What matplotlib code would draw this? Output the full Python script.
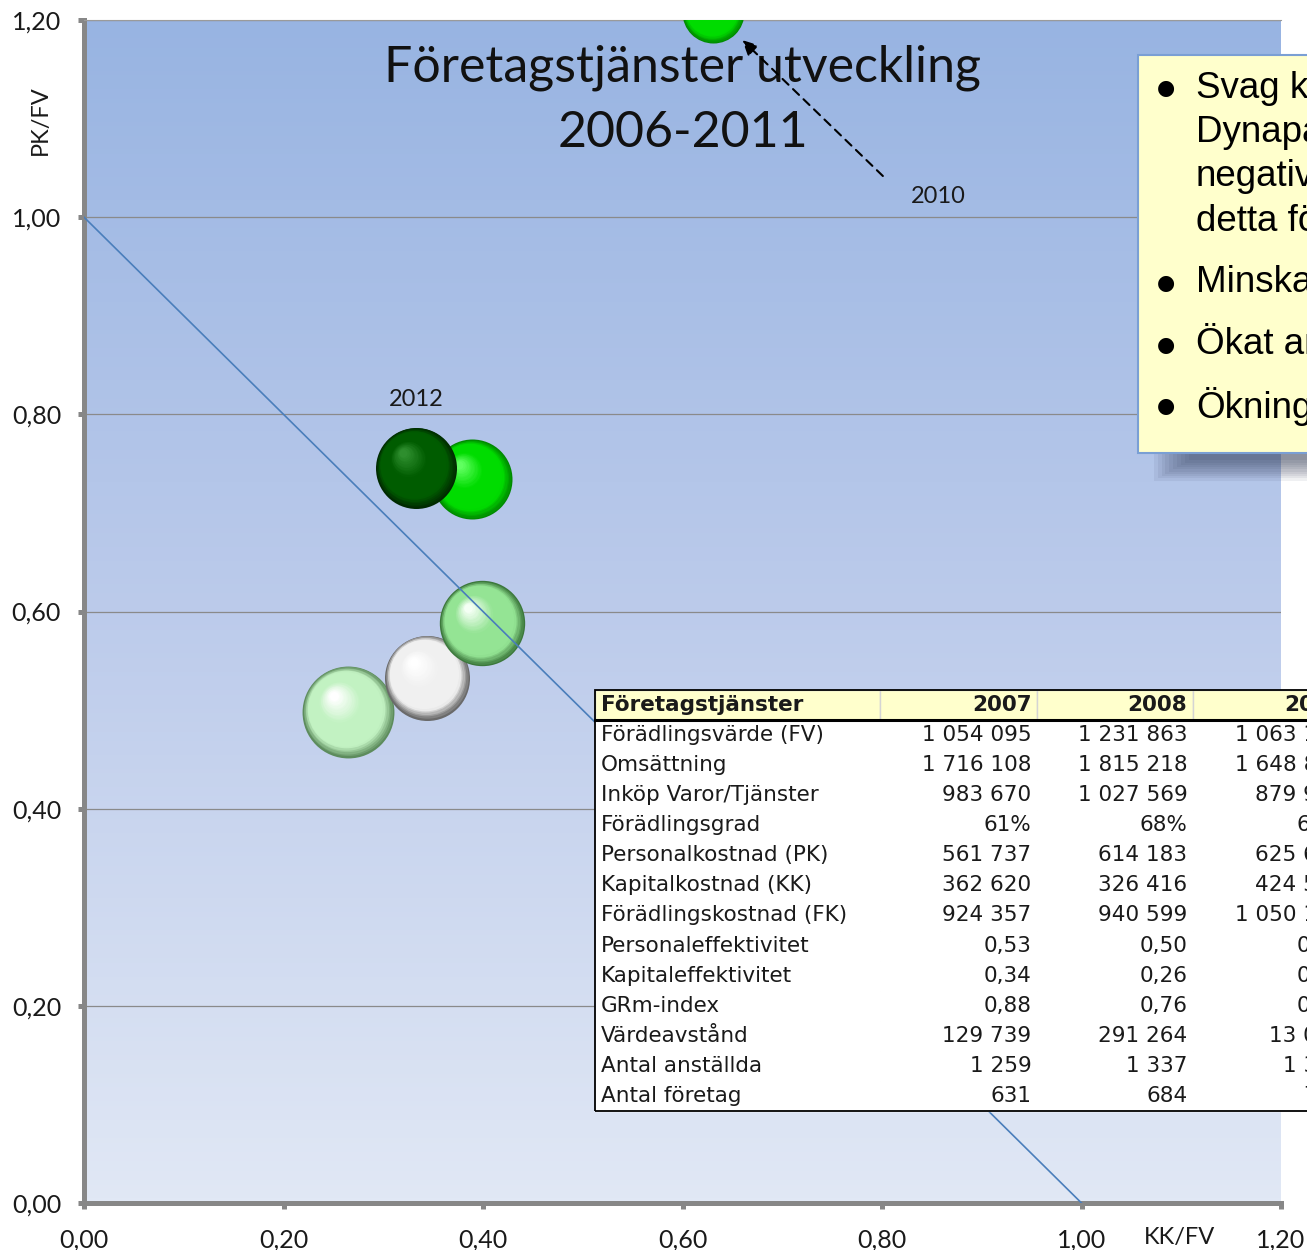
#!/usr/bin/env python3

# Företagstjänster utveckling: KK/FV against PK/FV as 3D-looking bubbles,
# with the key figures table and a comment box on top of the chart.

import numpy as np
import matplotlib
matplotlib.use('Agg')
import matplotlib.pyplot as plt
from matplotlib import transforms
from matplotlib.colors import LinearSegmentedColormap
from matplotlib.patches import Rectangle
from matplotlib.ticker import FuncFormatter
from matplotlib.table import Table

# Bubbles (drawing order, back to front)
years = ['2008', '2007', '2009', '2010', '2011', '2012']
kk_fv = [0.265, 0.344, 0.399, 0.631, 0.389, 0.333]
pk_fv = [0.498, 0.533, 0.588, 1.208, 0.734, 0.746]
fv = [1231863, 1054095, 1063198, 561000, 934000, 957000]   # bubble size

# rim, body, highlight
sphere_colors = [['#5d8c5d', '#c2f2c2', '#ffffff'],
                 ['#6a6a6a', '#f0f0f0', '#ffffff'],
                 ['#3c783c', '#94e494', '#f4fff4'],
                 ['#008a00', '#00dc00', '#70ff70'],
                 ['#008a00', '#00dc00', '#60ff60'],
                 ['#002a00', '#005c00', '#2e8e2e']]

# Table
table_head = ['Företagstjänster', '2007', '2008', '2009']
table_rows = ['Förädlingsvärde (FV)', 'Omsättning', 'Inköp Varor/Tjänster',
              'Förädlingsgrad', 'Personalkostnad (PK)', 'Kapitalkostnad (KK)',
              'Förädlingskostnad (FK)', 'Personaleffektivitet',
              'Kapitaleffektivitet', 'GRm-index', 'Värdeavstånd',
              'Antal anställda', 'Antal företag']
val_2007 = ['1 054 095', '1 716 108', '983 670', '61%', '561 737', '362 620',
            '924 357', '0,53', '0,34', '0,88', '129 739', '1 259', '631']
val_2008 = ['1 231 863', '1 815 218', '1 027 569', '68%', '614 183', '326 416',
            '940 599', '0,50', '0,26', '0,76', '291 264', '1 337', '684']
val_2009 = ['1 063 198', '1 648 812', '879 914', '64%', '625 637', '424 528',
            '1 050 165', '0,59', '0,40', '0,99', '13 033', '1 312', '702']

# Comment box (cut at the right edge of the slide)
box_text = [['Svag k', 'Dynapa', 'negativ', 'detta fö'],
            ['Minska'], ['Ökat ar'], ['Ökning']]

ticks = [0.0, 0.2, 0.4, 0.6, 0.8, 1.0, 1.2]

W, H = 1307, 1250
fig = plt.figure(figsize=(W / 100.0, H / 100.0), dpi=100)
ax = fig.add_axes([84.0 / W, 47.0 / H, 1197.0 / W, 1183.0 / H])

# Gradient plot area
grad = np.linspace(0, 1, 256).reshape(-1, 1)
bg = LinearSegmentedColormap.from_list('bg', ['#e1e8f5', '#bccbeb', '#98b4e2'])
ax.imshow(grad, extent=[0, 1, 0, 1], transform=ax.transAxes, origin='lower',
          cmap=bg, aspect='auto', zorder=0)

ax.set_xlim(0, 1.2)
ax.set_ylim(0, 1.2)
ax.set_xticks(ticks)
ax.set_yticks(ticks)
comma = FuncFormatter(lambda v, p: ('%.2f' % v).replace('.', ','))
ax.xaxis.set_major_formatter(comma)
ax.yaxis.set_major_formatter(comma)

ax.set_axisbelow(True)
ax.yaxis.grid(True, color='#8a8a8a', linewidth=0.9)

for s in ['left', 'bottom']:
    ax.spines[s].set_color('#878787')
    ax.spines[s].set_linewidth(3.6)
ax.spines['top'].set_color('#9a9a9a')
ax.spines['top'].set_linewidth(0.8)
ax.spines['right'].set_visible(False)

ax.tick_params(direction='out', length=4.5, width=3.6, color='#878787',
               labelsize=18, labelcolor='#1a1a1a')
ax.tick_params(axis='y', pad=12)
ax.tick_params(axis='x', pad=14)
for t in ax.get_xticklabels() + ax.get_yticklabels():
    t.set_family('Lato')

ax.set_xlabel('KK/FV', family='Lato', fontsize=17, va='center', color='#1a1a1a')
ax.xaxis.set_label_coords(0.9156, -0.029)
ax.set_ylabel('PK/FV', family='Lato', fontsize=17, va='center', ha='center',
              color='#1a1a1a')
ax.yaxis.set_label_coords(-0.0368, 0.9155)

# Spheres: stacked discs, shifted to the upper left, rim -> highlight
n_layers = 30
for i in range(len(years)):
    cmap = LinearSegmentedColormap.from_list(
        'sph%d' % i, [(0.0, sphere_colors[i][0]), (0.18, sphere_colors[i][1]),
                      (0.6, sphere_colors[i][1]), (1.0, sphere_colors[i][2])])
    r = 42.5 * 0.72 * np.sqrt(fv[i] / 1054095.0)
    for k in range(n_layers):
        t = k / (n_layers - 1.0)
        rk = r * (1 - 0.9 * t)
        off = transforms.offset_copy(ax.transData, fig=fig, x=-0.32 * r * t,
                                     y=0.36 * r * t, units='points')
        ax.scatter([kk_fv[i]], [pk_fv[i]], s=(2 * rk) ** 2,
                   color=cmap(t), linewidths=0, transform=off,
                   zorder=3 + 0.1 * i)

# x + y = 1
ax.axline((0, 1), slope=-1, color='#4a7ebb', linewidth=1.2, zorder=5)

# Title
ax.text(0.5, 0.932, 'Företagstjänster utveckling\n2006-2011',
        transform=ax.transAxes, ha='center', va='center', family='Lato',
        fontsize=36, linespacing=1.5, color='#111111', zorder=6)

# Year labels
ax.annotate(years[5], (kk_fv[5], pk_fv[5]), xytext=(0, 49),
            textcoords='offset points', ha='center', va='center',
            family='Lato', fontsize=17, color='#1a1a1a', zorder=6)
ax.annotate(years[3], (kk_fv[3], pk_fv[3]), xytext=(162, -133),
            textcoords='offset points', ha='center', va='center',
            family='Lato', fontsize=17, color='#1a1a1a', zorder=6,
            annotation_clip=False)
ax.annotate('', (kk_fv[3], pk_fv[3]), xytext=(122, -118),
            textcoords='offset points', annotation_clip=False, zorder=6,
            arrowprops=dict(arrowstyle='-|>', linestyle=(0, (4, 3)),
                            color='black', lw=1.5, mutation_scale=22,
                            shrinkA=0, shrinkB=29))

# Table
tx, ty, tw, th = 0.4269, 0.0778, 0.6307, 0.3559
col_w = [285, 157, 156, 157]
tb = Table(ax, bbox=[tx, ty, tw, th])
columns = [table_rows, val_2007, val_2008, val_2009]
for c in range(4):
    cell = tb.add_cell(0, c, width=col_w[c], height=1, text=table_head[c],
                       loc='left' if c == 0 else 'right',
                       facecolor='#ffffcc', edgecolor='#d4d4d4')
    cell.PAD = 0.02 if c == 0 else 0.035
    cell.get_text().set_fontweight('bold')
    for r in range(len(table_rows)):
        cell = tb.add_cell(r + 1, c, width=col_w[c], height=1,
                           text=columns[c][r],
                           loc='left' if c == 0 else 'right',
                           facecolor='white', edgecolor='white')
        cell.PAD = 0.02 if c == 0 else 0.035
tb.auto_set_font_size(False)
tb.set_fontsize(15.5)
for cell in tb.get_celld().values():
    cell.get_text().set_family('DejaVu Sans')
    cell.get_text().set_color('#1a1a1a')
    cell.set_linewidth(1)
tb.set_zorder(8)
ax.add_table(tb)
ax.add_patch(Rectangle((tx, ty), tw, th, transform=ax.transAxes,
                       fill=False, edgecolor='black', linewidth=1.3,
                       clip_on=False, zorder=9))
ax.plot([tx, tx + tw], [ty + th * 13 / 14.0] * 2, transform=ax.transAxes,
        color='black', linewidth=2.2, clip_on=False, zorder=9)

# Comment box with soft shadow
bx, by, bw, bh = 1138.0 / W, (H - 453.0) / H, 0.2, 398.0 / H
for j in range(10):
    fig.add_artist(Rectangle((bx + 0.012 + 0.003 * j, by - 0.022 + 0.0018 * j),
                             bw, bh, transform=fig.transFigure,
                             facecolor='#2a3550', alpha=0.07, edgecolor='none',
                             zorder=20))
fig.add_artist(Rectangle((bx, by), bw, bh, transform=fig.transFigure,
                         facecolor='#ffffcc', edgecolor='#7a9fd4',
                         linewidth=1.5, zorder=21))
ypos = 88.0
for para in box_text:
    fig.text(1166.0 / W, 1 - ypos / H, '\u25cf', ha='center', va='center',
             fontsize=15, family='DejaVu Sans', zorder=22)
    for line in para:
        fig.text(1196.0 / W, 1 - ypos / H, line, ha='left', va='center',
                 fontsize=26.5, family='Liberation Sans', color='black',
                 zorder=22)
        ypos += 44.5
    ypos += 17

fig.savefig('out.png', dpi=100)
